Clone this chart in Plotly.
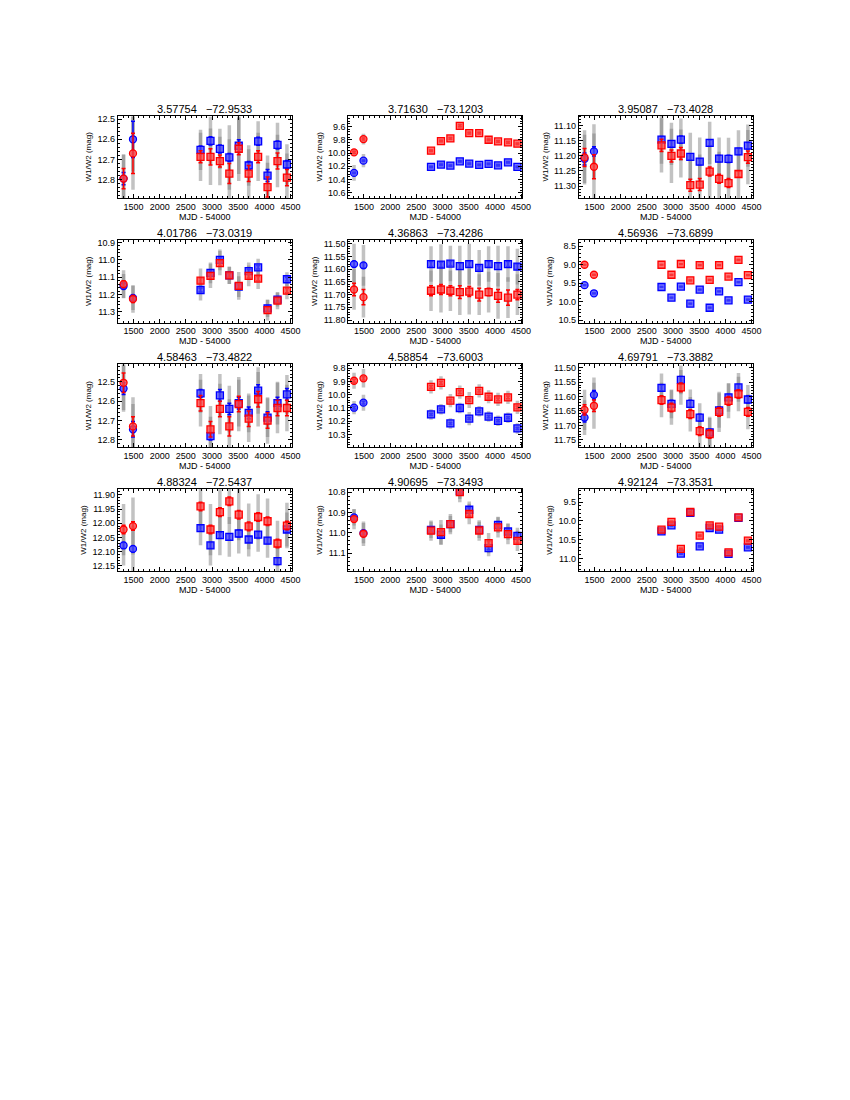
import plotly.graph_objects as go

# epoch means: MJD - 54000
EPOCHS = [1310, 1490, 2780, 2970, 3150, 3330, 3510, 3700, 3880, 4060, 4250, 4430]

TITLES = [
    "3.57754   −72.9533", "3.71630   −73.1203", "3.95087   −73.4028",
    "4.01786   −73.0319", "4.36863   −73.4286", "4.56936   −73.6899",
    "4.58463   −73.4822", "4.58854   −73.6003", "4.69791   −73.3882",
    "4.88324   −72.5437", "4.90695   −73.3493", "4.92124   −73.3531",
]

# y ranges (bright, faint) - axis is reversed
Y_RANGES = [
    [12.482, 12.892], [9.435, 10.68], [11.066, 11.34],
    [10.885, 11.362], [11.485, 11.81], [8.33, 10.56],
    [12.41, 12.836], [9.77, 10.395], [11.488, 11.775],
    [11.879, 12.169], [10.784, 11.19], [9.147, 11.345],
]
Y_DTICK = [0.1, 0.2, 0.05, 0.1, 0.05, 0.5, 0.1, 0.1, 0.05, 0.05, 0.1, 0.5]
Y_FMT = [".1f", ".1f", ".2f", ".1f", ".2f", ".1f", ".1f", ".1f", ".2f", ".2f", ".1f", ".1f"]

# W1 (blue) epoch averages
W1_MAG = [
    [12.795, 12.60, 12.653, 12.608, 12.648, 12.69, 12.632, 12.73, 12.61, 12.78, 12.628, 12.725],
    [10.30, 10.115, 10.21, 10.175, 10.19, 10.125, 10.16, 10.18, 10.165, 10.185, 10.14, 10.21],
    [11.21, 11.185, 11.146, 11.16, 11.146, 11.203, 11.219, 11.157, 11.209, 11.21, 11.185, 11.166],
    [11.151, 11.22, 11.174, 11.075, 11.0, 11.09, 11.155, 11.065, 11.043, 11.28, 11.23, 11.112],
    [11.580, 11.585, 11.580, 11.582, 11.578, 11.588, 11.580, 11.595, 11.580, 11.588, 11.580, 11.590],
    [9.55, 9.77, 9.60, 9.89, 9.59, 10.05, 9.67, 10.16, 9.72, 9.96, 9.47, 9.94],
    [12.535, 12.745, 12.56, 12.78, 12.57, 12.64, 12.61, 12.66, 12.545, 12.685, 12.61, 12.565],
    [10.098, 10.06, 10.149, 10.11, 10.217, 10.10, 10.18, 10.125, 10.165, 10.197, 10.174, 10.255],
    [11.673, 11.594, 11.57, 11.625, 11.542, 11.625, 11.673, 11.724, 11.648, 11.603, 11.568, 11.61],
    [12.078, 12.09, 12.017, 12.078, 12.042, 12.048, 12.036, 12.057, 12.04, 12.061, 12.133, 12.022],
    [10.925, 11.002, 10.986, 11.01, 10.958, 10.794, 10.887, 10.986, 11.076, 10.961, 10.994, 11.015],
    [None, None, 10.28, 10.12, 10.87, 9.79, 10.677, 10.19, 10.235, 10.88, 9.92, 10.704],
]

# W2 (red) epoch averages
W2_MAG = [
    [12.795, 12.67, 12.687, 12.687, 12.708, 12.77, 12.647, 12.77, 12.687, 12.837, 12.708, 12.79],
    [9.99, 9.79, 9.965, 9.82, 9.78, 9.59, 9.70, 9.70, 9.80, 9.825, 9.84, 9.86],
    [11.205, 11.236, 11.165, 11.20, 11.192, 11.297, 11.295, 11.252, 11.276, 11.29, 11.26, 11.204],
    [11.14, 11.226, 11.12, 11.093, 11.019, 11.09, 11.15, 11.093, 11.108, 11.29, 11.235, 11.178],
    [11.68, 11.71, 11.685, 11.68, 11.685, 11.69, 11.688, 11.70, 11.69, 11.705, 11.712, 11.70],
    [9.0, 9.27, 9.0, 9.27, 8.98, 9.42, 9.01, 9.41, 9.01, 9.32, 8.87, 9.28],
    [12.505, 12.73, 12.61, 12.745, 12.64, 12.73, 12.615, 12.69, 12.59, 12.70, 12.635, 12.635],
    [9.894, 9.876, 9.94, 9.91, 10.045, 9.98, 10.04, 9.97, 10.015, 10.035, 10.02, 10.095],
    [11.646, 11.632, 11.612, 11.638, 11.568, 11.661, 11.72, 11.73, 11.653, 11.615, 11.591, 11.653],
    [12.022, 12.01, 11.941, 12.022, 11.961, 11.923, 11.97, 12.011, 11.978, 11.993, 12.071, 12.008],
    [10.933, 11.005, 10.99, 10.997, 10.958, 10.80, 10.908, 10.989, 11.051, 10.974, 11.007, 11.04],
    [None, None, 10.235, 10.03, 10.747, 9.765, 10.395, 10.12, 10.155, 10.837, 9.908, 10.527],
]

W1_ERR = [
    [0.03, 0.09, 0.02, 0.02, 0.02, 0.02, 0.03, 0.02, 0.02, 0.03, 0.02, 0.02],
    [0.01, 0.01, 0.01, 0.01, 0.01, 0.01, 0.01, 0.01, 0.01, 0.01, 0.01, 0.01],
    [0.02, 0.015, 0.01, 0.01, 0.012, 0.01, 0.01, 0.01, 0.01, 0.012, 0.01, 0.01],
    [0.015, 0.015, 0.01, 0.012, 0.012, 0.01, 0.012, 0.01, 0.01, 0.015, 0.012, 0.01],
    [0.01, 0.01, 0.01, 0.01, 0.008, 0.012, 0.01, 0.008, 0.01, 0.012, 0.01, 0.01],
    [0.01, 0.01, 0.01, 0.01, 0.01, 0.01, 0.01, 0.01, 0.01, 0.01, 0.01, 0.01],
    [0.03, 0.04, 0.02, 0.02, 0.03, 0.03, 0.03, 0.03, 0.03, 0.03, 0.03, 0.03],
    [0.01, 0.01, 0.008, 0.008, 0.008, 0.008, 0.008, 0.008, 0.008, 0.008, 0.008, 0.008],
    [0.015, 0.015, 0.01, 0.012, 0.012, 0.012, 0.012, 0.01, 0.012, 0.01, 0.01, 0.012],
    [0.01, 0.01, 0.01, 0.01, 0.01, 0.01, 0.012, 0.01, 0.01, 0.01, 0.012, 0.01],
    [0.008, 0.008, 0.008, 0.01, 0.008, 0.008, 0.01, 0.008, 0.008, 0.01, 0.008, 0.01],
    [None, None, 0.02, 0.02, 0.02, 0.02, 0.02, 0.02, 0.02, 0.02, 0.02, 0.02],
]

W2_ERR = [
    [0.05, 0.10, 0.03, 0.04, 0.03, 0.05, 0.03, 0.04, 0.03, 0.05, 0.04, 0.04],
    [0.015, 0.015, 0.012, 0.012, 0.012, 0.015, 0.012, 0.012, 0.012, 0.012, 0.012, 0.012],
    [0.03, 0.04, 0.02, 0.02, 0.02, 0.02, 0.02, 0.015, 0.015, 0.015, 0.01, 0.02],
    [0.02, 0.02, 0.015, 0.015, 0.015, 0.012, 0.015, 0.012, 0.012, 0.015, 0.012, 0.012],
    [0.025, 0.03, 0.02, 0.02, 0.02, 0.025, 0.02, 0.025, 0.015, 0.025, 0.03, 0.02],
    [0.01, 0.01, 0.01, 0.01, 0.01, 0.01, 0.01, 0.01, 0.01, 0.01, 0.01, 0.01],
    [0.05, 0.05, 0.04, 0.04, 0.04, 0.05, 0.04, 0.04, 0.04, 0.04, 0.04, 0.04],
    [0.012, 0.012, 0.01, 0.01, 0.01, 0.01, 0.01, 0.01, 0.01, 0.01, 0.01, 0.01],
    [0.018, 0.02, 0.015, 0.015, 0.015, 0.015, 0.015, 0.015, 0.015, 0.015, 0.015, 0.015],
    [0.015, 0.015, 0.015, 0.015, 0.015, 0.015, 0.015, 0.015, 0.015, 0.015, 0.015, 0.015],
    [0.01, 0.01, 0.01, 0.01, 0.01, 0.01, 0.01, 0.01, 0.01, 0.01, 0.01, 0.01],
    [None, None, 0.02, 0.02, 0.02, 0.02, 0.02, 0.02, 0.02, 0.02, 0.02, 0.02],
]

# half-width of the grey cloud of single exposures, per band
W1_SCAT = [
    [0.12, 0.16, 0.10, 0.12, 0.10, 0.16, 0.14, 0.10, 0.10, 0.10, 0.11, 0.10],
    [0.12, 0.10, 0.03, 0.04, 0.03, 0.03, 0.04, 0.04, 0.04, 0.03, 0.03, 0.03],
    [0.08, 0.09, 0.08, 0.07, 0.07, 0.08, 0.08, 0.07, 0.07, 0.07, 0.07, 0.07],
    [0.07, 0.07, 0.06, 0.06, 0.06, 0.05, 0.06, 0.05, 0.05, 0.05, 0.04, 0.04],
    [0.08, 0.08, 0.07, 0.08, 0.07, 0.08, 0.08, 0.07, 0.07, 0.08, 0.07, 0.07],
    [0.03, 0.04, 0.03, 0.03, 0.03, 0.03, 0.03, 0.03, 0.03, 0.03, 0.03, 0.04],
    [0.12, 0.13, 0.10, 0.10, 0.11, 0.12, 0.12, 0.10, 0.12, 0.10, 0.11, 0.10],
    [0.05, 0.06, 0.04, 0.04, 0.04, 0.04, 0.05, 0.04, 0.04, 0.04, 0.04, 0.04],
    [0.06, 0.06, 0.05, 0.05, 0.05, 0.05, 0.05, 0.05, 0.06, 0.05, 0.05, 0.05],
    [0.07, 0.08, 0.06, 0.07, 0.07, 0.07, 0.07, 0.06, 0.06, 0.06, 0.06, 0.06],
    [0.04, 0.05, 0.04, 0.05, 0.04, 0.04, 0.04, 0.04, 0.04, 0.04, 0.04, 0.04],
    [None, None, 0.04, 0.04, 0.04, 0.04, 0.04, 0.04, 0.04, 0.04, 0.04, 0.04],
]

W2_SCAT = [
    [0.12, 0.18, 0.12, 0.14, 0.12, 0.17, 0.16, 0.12, 0.12, 0.12, 0.13, 0.12],
    [0.05, 0.08, 0.03, 0.04, 0.03, 0.05, 0.03, 0.03, 0.05, 0.03, 0.03, 0.03],
    [0.09, 0.11, 0.09, 0.09, 0.08, 0.10, 0.10, 0.09, 0.09, 0.09, 0.08, 0.09],
    [0.08, 0.08, 0.07, 0.07, 0.07, 0.05, 0.08, 0.06, 0.06, 0.06, 0.05, 0.05],
    [0.08, 0.08, 0.08, 0.09, 0.08, 0.09, 0.09, 0.08, 0.08, 0.09, 0.08, 0.08],
    [0.03, 0.04, 0.03, 0.03, 0.03, 0.05, 0.03, 0.03, 0.03, 0.03, 0.04, 0.03],
    [0.14, 0.15, 0.12, 0.12, 0.13, 0.14, 0.14, 0.12, 0.14, 0.12, 0.13, 0.12],
    [0.06, 0.07, 0.05, 0.05, 0.05, 0.05, 0.06, 0.05, 0.05, 0.05, 0.05, 0.05],
    [0.07, 0.08, 0.06, 0.06, 0.06, 0.06, 0.06, 0.06, 0.07, 0.06, 0.06, 0.06],
    [0.09, 0.10, 0.08, 0.09, 0.08, 0.08, 0.09, 0.08, 0.08, 0.08, 0.08, 0.08],
    [0.05, 0.06, 0.05, 0.06, 0.05, 0.05, 0.05, 0.05, 0.05, 0.05, 0.05, 0.05],
    [None, None, 0.04, 0.04, 0.04, 0.04, 0.04, 0.04, 0.04, 0.04, 0.04, 0.04],
]

# panel boxes in page pixels
COL_X = [(119, 295), (352, 528), (585, 761)]
ROW_Y = [(114, 197), (239, 322), (364, 447), (489, 572)]
OFF = 8          # default body margin of the html page
W, H = 834, 1084
FONT = "Liberation Sans"

symbols = ["circle", "circle"] + ["square"] * (len(EPOCHS) - 2)

fig = go.Figure()

for i in range(12):
    r, c = i // 3, i % 3
    n = "" if i == 0 else str(i + 1)
    xa, ya = "x" + n, "y" + n

    # grey clouds of single measurements
    for mags, scat in [(W1_MAG[i], W1_SCAT[i]), (W2_MAG[i], W2_SCAT[i])]:
        fig.add_trace(go.Scatter(
            x=EPOCHS, y=mags, mode="markers", xaxis=xa, yaxis=ya,
            marker=dict(size=2, color="rgba(110,110,110,0.6)"),
            error_y=dict(type="data", array=scat, color="rgba(120,120,120,0.45)",
                         thickness=3.5, width=0),
            showlegend=False, hoverinfo="skip"))

    # W1 blue, W2 red on top
    for mags, errs, fill, edge in [
        (W1_MAG[i], W1_ERR[i], "rgba(70,70,255,0.75)", "blue"),
        (W2_MAG[i], W2_ERR[i], "rgba(255,70,70,0.75)", "red"),
    ]:
        fig.add_trace(go.Scatter(
            x=EPOCHS, y=mags, mode="markers", xaxis=xa, yaxis=ya,
            marker=dict(symbol=symbols, size=7, color=fill,
                        line=dict(color=edge, width=1.3)),
            error_y=dict(type="data", array=errs, color=edge, thickness=1.5, width=2),
            showlegend=False))

    x0, x1 = COL_X[c]
    y0, y1 = ROW_Y[r]
    xdom = [(x0 - OFF) / W, (x1 - OFF) / W]
    ydom = [1 - (y1 - OFF) / H, 1 - (y0 - OFF) / H]

    axis_common = dict(
        showline=True, linecolor="black", linewidth=1, mirror="allticks",
        ticks="inside", ticklen=4, tickcolor="black", showgrid=False, zeroline=False,
        tickfont=dict(family=FONT, size=9, color="black"),
    )
    fig.update_layout({
        "xaxis" + n: dict(
            domain=xdom, anchor=ya, range=[1200, 4525], tick0=0, dtick=500,
            minor=dict(ticks="inside", ticklen=2, dtick=100, tickcolor="black"),
            title=dict(text="MJD - 54000", font=dict(family=FONT, size=9, color="black"),
                       standoff=1),
            **axis_common),
        "yaxis" + n: dict(
            domain=ydom, anchor=xa, range=[Y_RANGES[i][1], Y_RANGES[i][0]],
            tick0=0, dtick=Y_DTICK[i], tickformat=Y_FMT[i],
            minor=dict(ticks="inside", ticklen=2, dtick=Y_DTICK[i] / 5, tickcolor="black"),
            title=dict(text="W1/W2 (mag)", font=dict(family=FONT, size=8, color="black"),
                       standoff=4),
            **axis_common),
    })

    fig.add_annotation(
        text=TITLES[i], xref="paper", yref="paper",
        x=((x0 + x1) / 2 - OFF) / W, y=1 - (y0 - 7 - OFF) / H,
        showarrow=False, font=dict(family=FONT, size=11, color="black"),
        xanchor="center", yanchor="middle")

fig.update_layout(
    width=W, height=H, margin=dict(l=0, r=0, t=0, b=0),
    paper_bgcolor="white", plot_bgcolor="white",
)

fig.write_html("out.html")
